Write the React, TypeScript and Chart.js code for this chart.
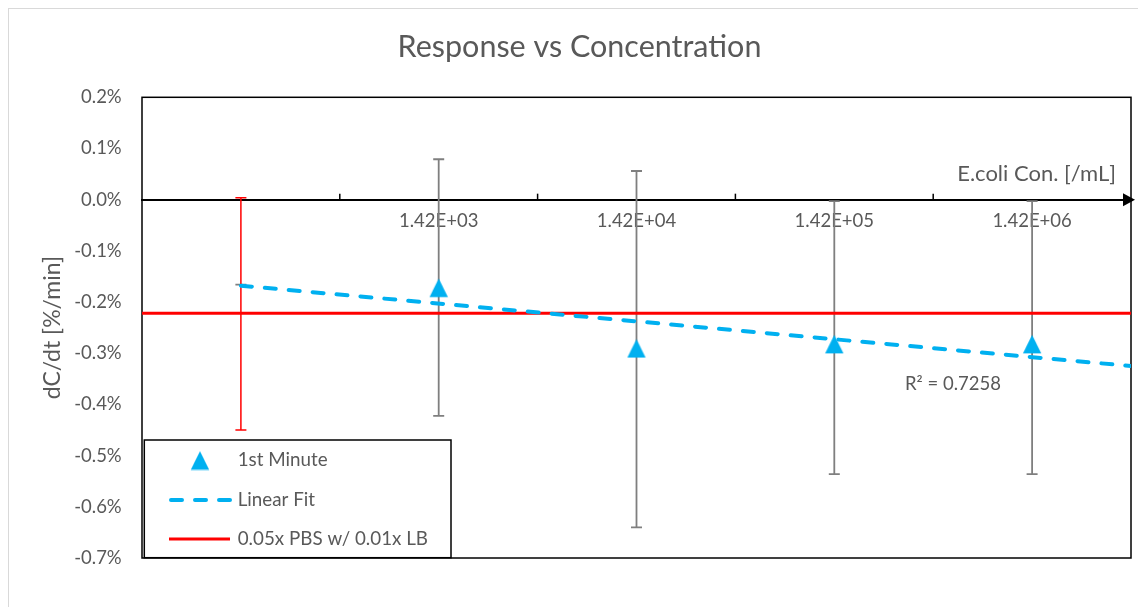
import React, { useEffect, useRef } from 'react';
import { Chart, registerables } from 'chart.js';

Chart.register(...registerables);

// ---- data ----
const xPositions = [1, 2, 3, 4, 5];
const xLabels = ['', '1.42E+03', '1.42E+04', '1.42E+05', '1.42E+06'];
const firstMinute: (number | null)[] = [null, -0.1721, -0.2906, -0.2822, -0.2822];
const firstMinuteErrHigh = [-0.166, 0.079, 0.056, -0.003, -0.003];
const firstMinuteErrLow = [-0.166, -0.4225, -0.640, -0.536, -0.536];
const linearFitX = [1, 5.5];
const linearFitY = [-0.168, -0.325];
const controlX = [0.5, 5.5];
const controlY = [-0.222, -0.222];
const controlErrX = [1];
const controlErrHigh = [0.004];
const controlErrLow = [-0.4498];
const yMin = -0.7;
const yMax = 0.2;
const yStep = 0.1;
const xMin = 0.5;
const xMax = 5.5;
const xBoundaries = [1.5, 2.5, 3.5, 4.5];
const seriesNames = ['1st Minute', 'Linear Fit', '0.05x PBS w/ 0.01x LB'];
const rSquaredText = 'R² = 0.7258';
const xAxisTitle = 'E.coli Con. [/mL]';
const yAxisTitle = 'dC/dt [%/min]';
const chartTitle = 'Response vs Concentration';

const TEXT = '#595959';
const BLUE = '#00b0f0';
const RED = '#ff0000';
const GREY = '#7f7f7f';
const FONT = 'Lato';

function makeTriangle(): HTMLCanvasElement {
  const c = document.createElement('canvas');
  c.width = 20;
  c.height = 20;
  const g = c.getContext('2d')!;
  g.fillStyle = BLUE;
  g.beginPath();
  g.moveTo(10, 0.8);
  g.lineTo(19.2, 19.2);
  g.lineTo(0.8, 19.2);
  g.closePath();
  g.fill();
  return c;
}

export default function App() {
  const ref = useRef<HTMLCanvasElement>(null);

  useEffect(() => {
    document.body.style.overflow = 'hidden';
    const tri = makeTriangle();

    const overlay = {
      id: 'overlay',
      beforeDatasetsDraw(chart: any) {
        const { ctx, chartArea: a, scales } = chart;
        const xs = scales.x;
        const ys = scales.y;
        ctx.save();
        // frame
        ctx.strokeStyle = '#000';
        ctx.lineWidth = 1.5;
        ctx.strokeRect(a.left, a.top, a.right - a.left, a.bottom - a.top);
        // boundary ticks pointing up from the x axis
        const y0 = ys.getPixelForValue(0);
        ctx.lineWidth = 1.5;
        xBoundaries.forEach((b) => {
          const px = xs.getPixelForValue(b);
          ctx.beginPath();
          ctx.moveTo(px, y0);
          ctx.lineTo(px, y0 - 6);
          ctx.stroke();
        });
        // arrow
        ctx.fillStyle = '#000';
        ctx.beginPath();
        ctx.moveTo(a.right + 4, y0);
        ctx.lineTo(a.right - 8, y0 - 6.5);
        ctx.lineTo(a.right - 8, y0 + 6.5);
        ctx.closePath();
        ctx.fill();

        const bar = (x: number, hi: number, lo: number, color: string, w: number) => {
          const px = xs.getPixelForValue(x);
          const ph = ys.getPixelForValue(hi);
          const pl = ys.getPixelForValue(lo);
          ctx.strokeStyle = color;
          ctx.lineWidth = w;
          ctx.beginPath();
          ctx.moveTo(px, ph);
          ctx.lineTo(px, pl);
          ctx.moveTo(px - 5.5, ph);
          ctx.lineTo(px + 5.5, ph);
          ctx.moveTo(px - 5.5, pl);
          ctx.lineTo(px + 5.5, pl);
          ctx.stroke();
        };
        xPositions.forEach((x, i) => bar(x, firstMinuteErrHigh[i], firstMinuteErrLow[i], GREY, 1.8));
        controlErrX.forEach((x, i) => bar(x, controlErrHigh[i], controlErrLow[i], RED, 1.5));

        // x axis title and R² label
        ctx.fillStyle = TEXT;
        ctx.font = `22px ${FONT}`;
        ctx.textAlign = 'right';
        ctx.textBaseline = 'middle';
        ctx.fillText(xAxisTitle, 1107, y0 - 26);
        ctx.font = `18.5px ${FONT}`;
        ctx.textAlign = 'center';
        ctx.fillText(rSquaredText, 944, 375);
        ctx.restore();
      },
      afterDraw(chart: any) {
        const { ctx } = chart;
        ctx.save();
        const L = 135.3, T = 431, R = 442, B = 548.7;
        ctx.fillStyle = '#fff';
        ctx.fillRect(L, T, R - L, B - T);
        ctx.strokeStyle = '#000';
        ctx.lineWidth = 1.5;
        ctx.strokeRect(L, T, R - L, B - T);
        // item 1: triangle
        ctx.drawImage(tri, 191 - 10, 451.5 - 10);
        // item 2: dashed
        ctx.strokeStyle = BLUE;
        ctx.lineWidth = 4;
        ctx.lineCap = 'round';
        ctx.setLineDash([11, 13]);
        ctx.beginPath();
        ctx.moveTo(162, 491);
        ctx.lineTo(221, 491);
        ctx.stroke();
        ctx.setLineDash([]);
        // item 3: red line
        ctx.strokeStyle = RED;
        ctx.lineWidth = 3;
        ctx.lineCap = 'butt';
        ctx.beginPath();
        ctx.moveTo(160, 530);
        ctx.lineTo(221, 530);
        ctx.stroke();
        ctx.fillStyle = TEXT;
        ctx.font = `18.8px ${FONT}`;
        ctx.textAlign = 'left';
        ctx.textBaseline = 'middle';
        ctx.fillText(seriesNames[0], 228.7, 451);
        ctx.fillText(seriesNames[1], 228.7, 491);
        ctx.fillText(seriesNames[2], 228.7, 530);
        ctx.restore();
      },
    };

    const chart = new Chart(ref.current!, {
      type: 'scatter',
      data: {
        datasets: [
          {
            label: seriesNames[0],
            data: xPositions
              .map((x, i) => ({ x, y: firstMinute[i] }))
              .filter((p) => p.y !== null) as any,
            pointStyle: tri as any,
            pointRadius: 10,
            showLine: false,
            backgroundColor: BLUE,
            borderColor: BLUE,
            order: 0,
          },
          {
            label: seriesNames[1],
            data: linearFitX.map((x, i) => ({ x, y: linearFitY[i] })),
            showLine: true,
            borderColor: BLUE,
            borderWidth: 4,
            borderDash: [11, 13],
            borderCapStyle: 'round',
            pointRadius: 0,
            order: 1,
          },
          {
            label: seriesNames[2],
            data: controlX.map((x, i) => ({ x, y: controlY[i] })),
            showLine: true,
            borderColor: RED,
            borderWidth: 3,
            pointRadius: 0,
            order: 2,
          },
        ],
      },
      options: {
        animation: false,
        responsive: false,
        maintainAspectRatio: false,
        layout: { padding: { left: 19, right: 15, top: 0, bottom: 49 } },
        plugins: {
          legend: { display: false },
          tooltip: { enabled: false },
          title: {
            display: true,
            text: chartTitle,
            color: TEXT,
            font: { family: FONT, size: 30.5, weight: 'normal' },
            padding: { top: 19.7, bottom: 32 },
          },
        },
        scales: {
          x: {
            type: 'linear',
            position: { y: 0 } as any,
            min: xMin,
            max: xMax,
            afterBuildTicks: (s: any) => {
              s.ticks = xPositions.map((v) => ({ value: v }));
            },
            ticks: {
              autoSkip: false,
              maxRotation: 0,
              padding: 10.2,
              color: TEXT,
              font: { family: FONT, size: 18.5 },
              callback: (v: any) => {
                const i = xPositions.indexOf(Number(v));
                return i >= 0 ? xLabels[i] : '';
              },
            },
            grid: { display: false, drawTicks: false },
            border: { display: true, color: '#000', width: 2 },
          },
          y: {
            type: 'linear',
            min: yMin,
            max: yMax,
            afterFit: (s: any) => {
              s.width = 114;
            },
            ticks: {
              stepSize: yStep,
              padding: 20.3,
              color: TEXT,
              font: { family: FONT, size: 18.5 },
              callback: (v: any) => {
                const n = Math.abs(Number(v)) < 1e-9 ? 0 : Number(v);
                return n.toFixed(1) + '%';
              },
            },
            grid: { display: false, drawTicks: false },
            border: { display: false },
            title: {
              display: true,
              text: yAxisTitle,
              color: TEXT,
              font: { family: FONT, size: 23 },
              padding: { top: 10.7, bottom: 0 },
            },
          },
        },
      },
      plugins: [overlay],
    });
    return () => chart.destroy();
  }, []);

  return (
    <div
      style={{
        width: 1137,
        height: 598,
        borderLeft: '1px solid #d9d9d9',
        borderTop: '1px solid #d9d9d9',
        background: '#fff',
      }}
    >
      <canvas ref={ref} width={1137} height={598} style={{ display: 'block', width: 1137, height: 598 }} />
    </div>
  );
}
